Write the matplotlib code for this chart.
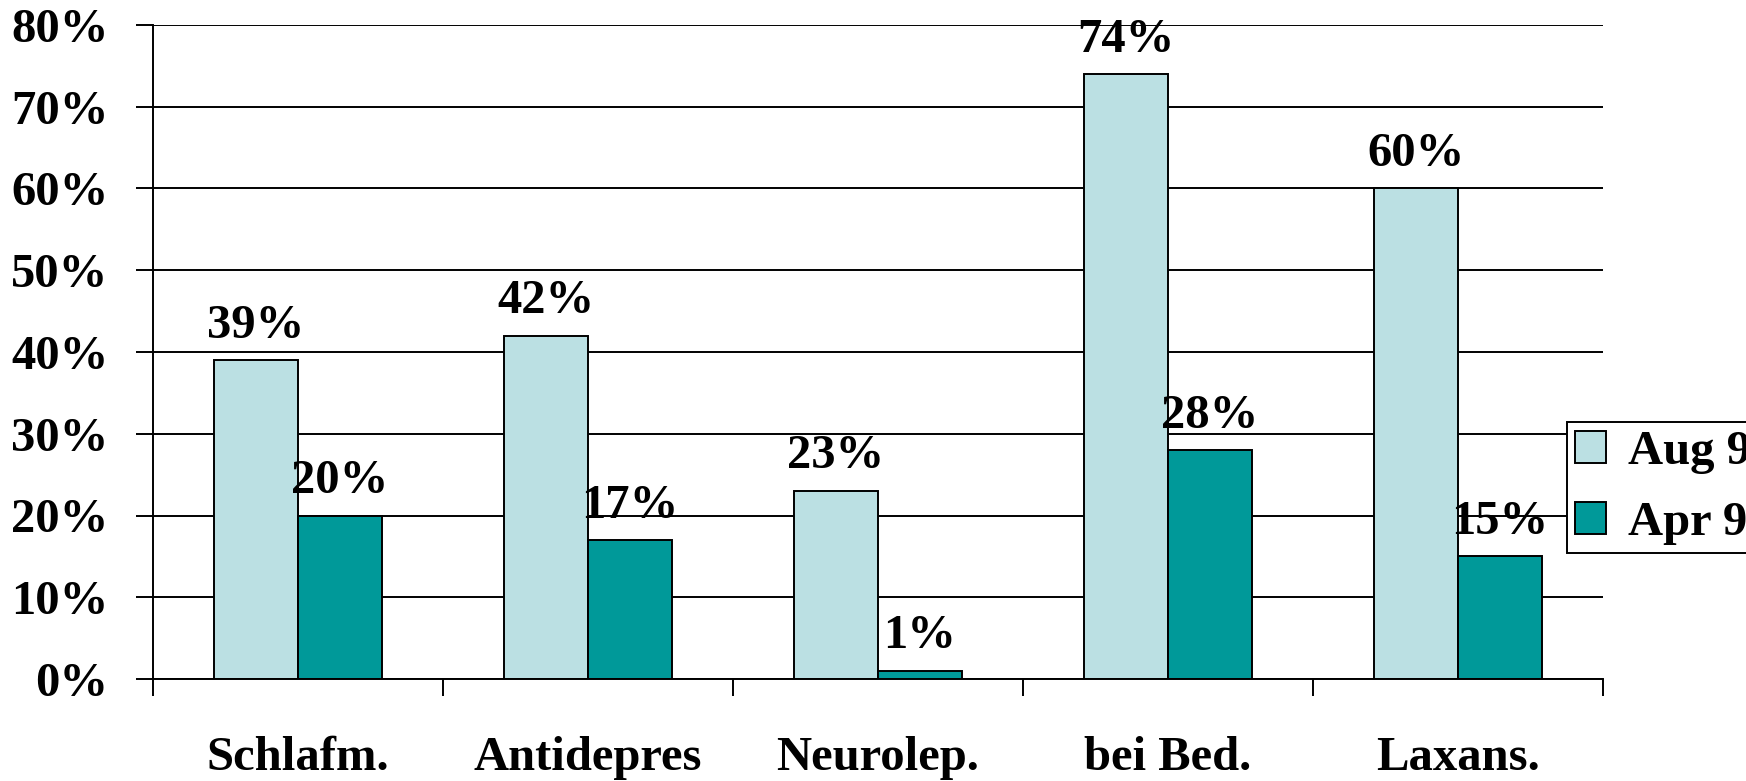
import matplotlib
matplotlib.use("Agg")
import matplotlib.pyplot as plt
from matplotlib.ticker import FixedLocator, PercentFormatter
import numpy as np

# Anteil der Bewohner mit Verordnung, vorher / nachher
categories = ["Schlafm.", "Antidepres", "Neurolep.", "bei Bed.", "Laxans."]
aug = [39, 42, 23, 74, 60]
apr = [20, 17, 1, 28, 15]
series_names = ["Aug 98", "Apr 99"]

plt.rcParams['font.family'] = ['Liberation Serif', 'DejaVu Serif']
plt.rcParams['font.weight'] = 'bold'
fs = 35

fig = plt.figure(figsize=(17.46, 7.81), dpi=100)
ax = fig.add_axes([153/1746, 1 - 679/781, 1450/1746, 654/781])

x = np.arange(len(categories))
w = 0.29
b1 = ax.bar(x - w/2, aug, w, color="#BBE0E3", edgecolor="black", linewidth=1.4, label=series_names[0])
b2 = ax.bar(x + w/2, apr, w, color="#009999", edgecolor="black", linewidth=1.4, label=series_names[1])

for bars, vals in ((b1, aug), (b2, apr)):
    for rect, v in zip(bars, vals):
        ax.annotate(f"{v}%", (rect.get_x() + rect.get_width()/2, v),
                    xytext=(0, 9), textcoords="offset points",
                    ha="center", va="bottom", fontsize=fs, fontweight="bold")

ax.set_xlim(-0.5, len(categories) - 0.5)
ax.set_ylim(0, 80)
ax.set_yticks(range(0, 81, 10))
ax.yaxis.set_major_formatter(PercentFormatter(decimals=0))
ax.yaxis.grid(True, color="black", linewidth=1.4)
ax.set_axisbelow(True)

ax.set_xticks(x)
ax.set_xticklabels(categories)
ax.xaxis.set_minor_locator(FixedLocator(np.arange(-0.5, len(categories), 1)))
ax.tick_params(axis="x", which="major", length=0, pad=41, labelsize=fs)
ax.tick_params(axis="x", which="minor", length=12, width=1.4, direction="out")
ax.tick_params(axis="y", length=12, width=1.4, direction="out", pad=20, labelsize=fs)

for lab in ax.get_xticklabels() + ax.get_yticklabels():
    lab.set_fontweight("bold")

for s in ("top", "right"):
    ax.spines[s].set_visible(False)
ax.spines["left"].set_linewidth(1.4)
ax.spines["bottom"].set_linewidth(1.4)

# legend sits on the right, partly past the figure edge
leg = fig.legend(loc="upper left", bbox_to_anchor=(1567/1746, 1 - 422/781),
                 frameon=True, fancybox=False, borderaxespad=0,
                 handlelength=0.64, handleheight=0.64, handletextpad=0.45,
                 labelspacing=0.55, borderpad=0.17, prop={"weight": "bold", "size": fs})
leg.get_frame().set_edgecolor("black")
leg.get_frame().set_linewidth(1.4)
leg.get_frame().set_alpha(1)

fig.savefig("out.png", dpi=100)
